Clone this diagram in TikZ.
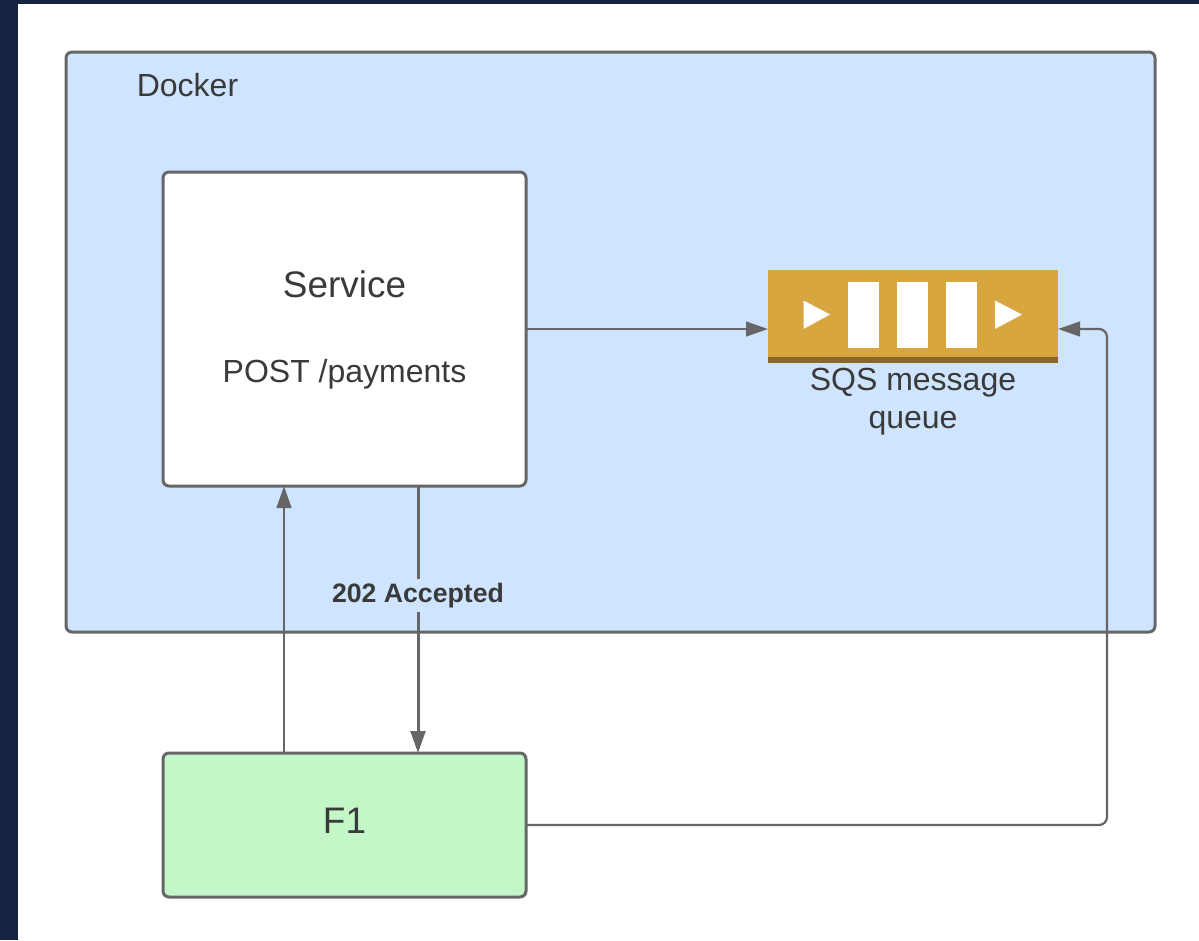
\documentclass[tikz,border=0pt]{standalone}
\usepackage{fontspec}
\setmainfont{Liberation Sans}
\usetikzlibrary{arrows.meta}
\definecolor{navyback}{HTML}{14233F}
\definecolor{dockerblue}{HTML}{CFE4FF}
\definecolor{f1green}{HTML}{C3F7C8}
\definecolor{queuegold}{HTML}{D8A63F}
\definecolor{queuedark}{HTML}{8A6628}
\definecolor{linegrey}{HTML}{666666}
\definecolor{textgrey}{HTML}{3A3A3A}
\begin{document}
\begin{tikzpicture}[x=0.75pt,y=-0.75pt,
  box/.style={draw=linegrey,line width=2.25pt,rounded corners=4.5pt,outer sep=0pt,text=textgrey,align=center,inner sep=0pt},
  label/.style={text=textgrey,font=\fontsize{24}{28.5}\selectfont,align=center,inner sep=0pt},
  link/.style={draw=linegrey,line width=1.65pt,-{Stealth[length=16.5pt,width=11pt,inset=0pt]},rounded corners=6pt},
  bar/.style={fill=white,minimum width=23.25pt,minimum height=49.5pt,inner sep=0pt,outer sep=0pt}]
  \fill[navyback] (0,0) rectangle (1199,940);
  \fill[white] (18,4) rectangle (1199,940);
  % boxes
  \node[box,fill=dockerblue,minimum width=816.75pt,minimum height=435pt] (docker) at (610.5,342) {};
  \node[label] (dockertext) at (187.5,85) {Docker};
  \node[box,fill=white,minimum width=272.25pt,minimum height=235.5pt] (service) at (344.5,329) {};
  \node[text=textgrey,inner sep=0pt,font=\fontsize{27.7}{32}\selectfont] (servicetext) at (344.5,284) {Service};
  \node[label] (route) at (344.5,374) {POST /payments};
  \node[box,fill=f1green,minimum width=272.25pt,minimum height=108pt] (f1) at (344.5,825) {};
  \node[text=textgrey,inner sep=0pt,font=\fontsize{27.7}{32}\selectfont] (f1text) at (344.5,821) {F1};
  % queue
  \node[fill=queuegold,minimum width=217.5pt,minimum height=69.75pt,inner sep=0pt,outer sep=0pt] (queue) at (913,316.5) {};
  \fill[queuedark] (queue.south west) rectangle ([yshift=4.5pt]queue.south east);
  \foreach \x/\n in {863.5/a,912.5/b,961.5/c}
    \node[bar] (bar\n) at (\x,315) {};
  \fill[white] (803.5,300.5) -- (830,314.5) -- (803.5,329) -- cycle;
  \fill[white] (995,300.5) -- (1022,314.5) -- (995,329) -- cycle;
  \node[label] (queuetext) at (913,402) {SQS message\\queue};
  % connectors
  \coordinate (upfoot) at (284,753);
  \coordinate (uphead) at (284,486);
  \coordinate (downtop) at (418,486);
  \coordinate (downfoot) at (418,753);
  \coordinate (bend) at (1107,825);
  \coordinate (queuein) at (1058,329);
  \draw[link] (service.east) -- (service.east -| queue.west);
  \draw[link] (upfoot) -- (uphead);
  \draw[link,line width=2.25pt] (downtop) -- (downfoot)
    node[pos=0.41,fill=dockerblue,text=textgrey,inner xsep=2pt,inner ysep=3pt,font=\fontsize{20}{24}\selectfont\bfseries] (accepted) {202 Accepted};
  \draw[link] (f1.east) -- (bend) -- (bend |- queuein) -- (queuein);
\end{tikzpicture}
\end{document}
